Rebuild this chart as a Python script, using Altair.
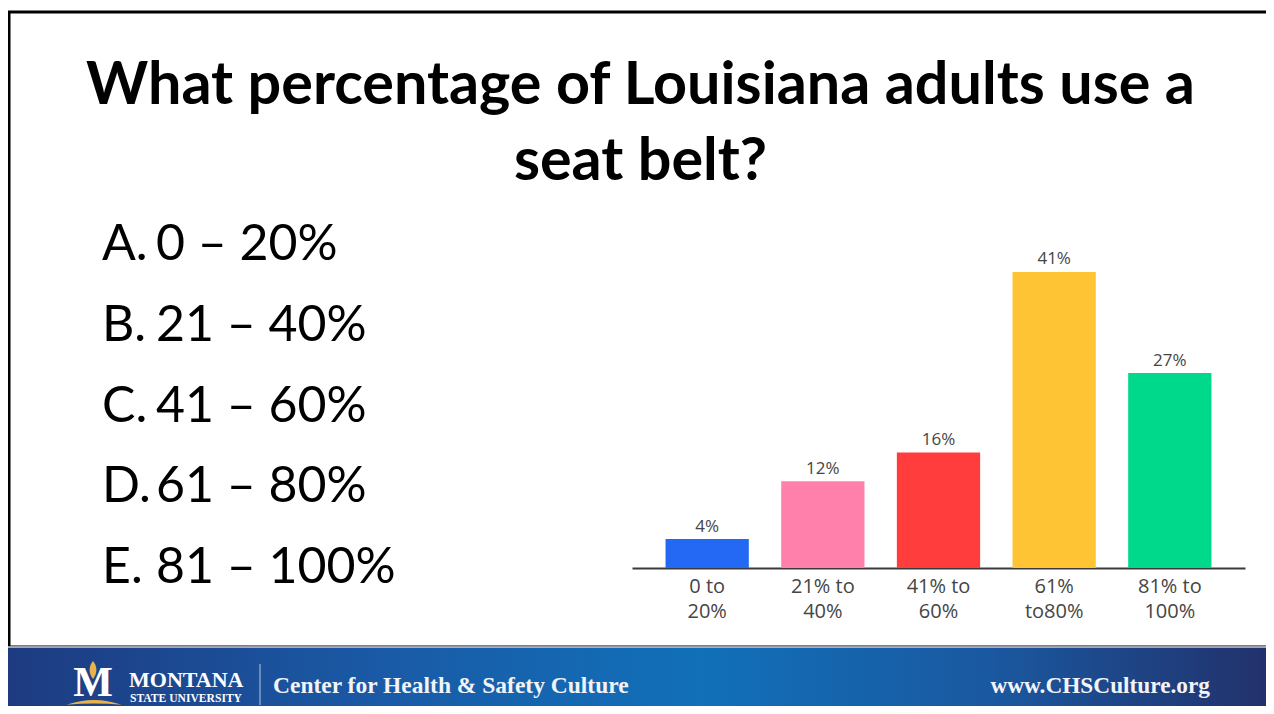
import altair as alt
import pandas as pd

# ---- data ----
categories = ["0 to 20%", "21% to 40%", "41% to 60%", "61% to80%", "81% to 100%"]
label_line1 = ["0 to", "21% to", "41% to", "61%", "81% to"]
label_line2 = ["20%", "40%", "60%", "to80%", "100%"]
values = [4, 12, 16, 41, 27]
bar_colors = ["#2369f4", "#ff80aa", "#ff3d3d", "#ffc433", "#00d98b"]

title_lines = ["What percentage of Louisiana adults use a", "seat belt?"]
answer_letters = ["A.", "B.", "C.", "D.", "E."]
answer_ranges = ["0 \u2013 20%", "21 \u2013 40%", "41 \u2013 60%", "61 \u2013 80%", "81 \u2013 100%"]

footer_left = "Center for Health & Safety Culture"
footer_right = "www.CHSCulture.org"

# ---- layout (plot area sits at page x=632, y=243) ----
OX, OY = 632, 243
PW, PH = 613, 325


def px(v):
    return v - OX


def py(v):
    return v - OY


df = pd.DataFrame({
    "cat": categories,
    "value": values,
    "line1": label_line1,
    "line2": label_line2,
    "color": bar_colors,
})
df["label"] = [f"{v}%" for v in values]

base = alt.Chart(df)
xenc = alt.X("cat:N", sort=categories,
             scale=alt.Scale(paddingInner=0.28, paddingOuter=0.29),
             axis=alt.Axis(labels=False, ticks=False, title=None, grid=False,
                           domainColor="#3a3a3a", domainWidth=2))
yenc = alt.Y("value:Q", scale=alt.Scale(domain=[0, 45]), axis=None)

bars = base.mark_bar().encode(x=xenc, y=yenc, color=alt.Color("color:N", scale=None))
vlabels = base.mark_text(baseline="alphabetic", dy=-7.5, fontSize=17, font="Open Sans",
                         color="#454545").encode(x=xenc, y=yenc, text="label:N")
xl1 = base.mark_text(baseline="middle", fontSize=20, font="Open Sans", color="#454545").encode(
    x=xenc, y=alt.value(py(587)), text="line1:N")
xl2 = base.mark_text(baseline="middle", fontSize=20, font="Open Sans", color="#454545").encode(
    x=xenc, y=alt.value(py(612)), text="line2:N")


def txt(s, x, y, **kw):
    return alt.Chart(pd.DataFrame({"t": [s]})).mark_text(**kw).encode(
        text="t:N", x=alt.value(x), y=alt.value(y))


one = pd.DataFrame({"a": [0]})

# slide border
border = alt.Chart(one).mark_rect(fillOpacity=0, stroke="black", strokeWidth=3).encode(
    x=alt.value(px(9)), x2=alt.value(px(1268)), y=alt.value(py(12)), y2=alt.value(py(647)))

# footer band
grad = alt.LinearGradient(
    gradient="linear", x1=0, x2=1, y1=0, y2=0,
    stops=[
        alt.GradientStop(offset=0, color="#1d3a80"),
        alt.GradientStop(offset=0.3, color="#1a5aa6"),
        alt.GradientStop(offset=0.55, color="#1170b9"),
        alt.GradientStop(offset=0.78, color="#1a58a0"),
        alt.GradientStop(offset=1, color="#22306a"),
    ])
footer = alt.Chart(one).mark_rect(color=grad).encode(
    x=alt.value(px(0)), x2=alt.value(px(1274)), y=alt.value(py(647)), y2=alt.value(py(714)))
footer_line = alt.Chart(one).mark_rule(color="#c9ced8", strokeWidth=1.5).encode(
    x=alt.value(px(0)), x2=alt.value(px(1274)), y=alt.value(py(647)))
sep = alt.Chart(one).mark_rule(color="#dfe6f0", strokeWidth=1, opacity=0.8).encode(
    x=alt.value(px(260)), y=alt.value(py(664)), y2=alt.value(py(705)))

arc = alt.Chart(one).mark_point(
    shape="M-1,0.14 Q0,-0.22 1,0.14 Q0,0.04 -1,0.14 Z",
    filled=True, color="#e9b24a", size=3025, opacity=1).encode(
    x=alt.value(px(94)), y=alt.value(py(701)))
flame = alt.Chart(one).mark_point(
    shape="M0,-1 C0.55,-0.35 0.45,0.45 0,1 C-0.45,0.45 -0.55,-0.35 0,-1 Z",
    filled=True, color="#e9b24a", size=324, opacity=1).encode(
    x=alt.value(px(93)), y=alt.value(py(670)))

layers = [border, bars, vlabels, xl1, xl2, footer, footer_line, sep, arc]

# title
layers.append(txt(title_lines[0], px(640.5), py(104), align="center", baseline="alphabetic",
                  font="Lato", fontWeight="bold", fontSize=59.3, color="black"))
layers.append(txt(title_lines[1], px(640.5), py(180), align="center", baseline="alphabetic",
                  font="Lato", fontWeight="bold", fontSize=59.3, color="black"))

# answers
for i, (lt, rg) in enumerate(zip(answer_letters, answer_ranges)):
    yb = py(260 + i * 80.75)
    layers.append(txt(lt, px(102), yb, align="left", baseline="alphabetic",
                      font="Lato", fontSize=50, color="black"))
    layers.append(txt(rg, px(156), yb, align="left", baseline="alphabetic",
                      font="Lato", fontSize=50, color="black"))

# footer texts
layers.append(txt("M", px(93), py(705), align="center", baseline="bottom",
                  font="Liberation Serif", fontWeight="bold", fontSize=42, color="white"))
layers.append(flame)
layers.append(txt("MONTANA", px(129), py(686.5), align="left", baseline="alphabetic",
                  font="Liberation Serif", fontWeight="bold", fontSize=22, color="white"))
layers.append(txt("STATE UNIVERSITY", px(130), py(701.5), align="left", baseline="alphabetic",
                  font="Liberation Serif", fontWeight="bold", fontSize=11.6, color="white"))
layers.append(txt(footer_left, px(273), py(693), align="left", baseline="alphabetic",
                  font="Liberation Serif", fontWeight="bold", fontSize=23.5, color="#f2f4f8"))
layers.append(txt(footer_right, px(1210), py(693), align="right", baseline="alphabetic",
                  font="Liberation Serif", fontWeight="bold", fontSize=23.3, color="#f2f4f8"))

chart = alt.layer(*layers).properties(
    width=PW, height=PH,
    autosize=alt.AutoSizeParams(type="none"),
    padding={"left": OX - 8, "top": OY - 8, "right": 1258 - (OX - 8) - PW,
             "bottom": 698 - (OY - 8) - PH},
    background="white",
).configure_view(stroke=None)

chart.save("out.html", embed_options={"renderer": "svg", "actions": False})
